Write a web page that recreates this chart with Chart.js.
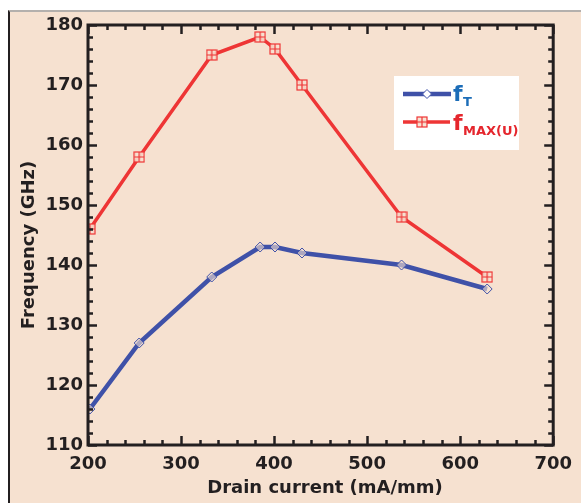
<!DOCTYPE html>
<html>
<head>
<meta charset="utf-8">
<script src="https://cdn.jsdelivr.net/npm/chart.js@4"></script>
<style>
    html, body { margin: 0; padding: 0; background: #fff; overflow: hidden; }
    #frame {
        position: absolute; left: 8px; top: 10px; width: 620px; height: 540px;
        background: #f6e1d0; border-left: 2px solid #231f20; border-top: 2px solid #b4b0ad;
    }
    #wrap { position: absolute; left: 0; top: 0; width: 581px; height: 503px; }
</style>
</head>
<body>
<div id="frame"></div>
<div id="wrap"><canvas id="freqChart"></canvas></div>
<script>
// drain current (mA/mm)
const drainCurrent = [202, 255, 333, 385, 401, 430, 537, 629];
const ftValues = [116, 127, 138, 143, 143, 142, 140, 136];
const fmaxValues = [146, 158, 175, 178, 176, 170, 148, 138];
const xTicks = [200, 300, 400, 500, 600, 700];
const yTicks = [110, 120, 130, 140, 150, 160, 170, 180];

const blue = '#3f51a8';
const red = '#ee3535';
const ink = '#231f20';
const font = '"DejaVu Sans", Verdana, sans-serif';

// square with a cross inside, used for the fMAX markers
function makeBoxMarker() {
    const c = document.createElement('canvas');
    c.width = 12; c.height = 12;
    const g = c.getContext('2d');
    g.strokeStyle = red;
    g.lineWidth = 1.2;
    g.fillStyle = 'rgba(246,225,208,0.9)';
    g.fillRect(1, 1, 10, 10);
    g.strokeRect(1, 1, 10, 10);
    g.beginPath();
    g.moveTo(6, 1); g.lineTo(6, 11);
    g.moveTo(1, 6); g.lineTo(11, 6);
    g.stroke();
    return c;
}
const boxMarker = makeBoxMarker();

function drawDiamond(ctx, x, y, r) {
    ctx.beginPath();
    ctx.moveTo(x, y - r); ctx.lineTo(x + r, y); ctx.lineTo(x, y + r); ctx.lineTo(x - r, y);
    ctx.closePath();
    ctx.fillStyle = '#ffffff';
    ctx.fill();
    ctx.strokeStyle = blue;
    ctx.lineWidth = 1;
    ctx.stroke();
}

// frame with inward ticks on all four sides, plus axis titles and legend
const framePlugin = {
    id: 'framePlugin',
    afterDraw(chart) {
        const ctx = chart.ctx;
        const xs = chart.scales.x, ys = chart.scales.y;
        const a = chart.chartArea;
        ctx.save();
        ctx.strokeStyle = ink;
        ctx.lineWidth = 3;
        ctx.strokeRect(a.left, a.top, a.right - a.left, a.bottom - a.top);

        ctx.lineWidth = 2.5;
        ctx.beginPath();
        for (let v = xs.min; v <= xs.max; v += 20) {
            const px = Math.round(xs.getPixelForValue(v)) + 0.5;
            const len = v % 100 === 0 ? 9 : 5;
            ctx.moveTo(px, a.bottom); ctx.lineTo(px, a.bottom - len);
            ctx.moveTo(px, a.top); ctx.lineTo(px, a.top + len);
        }
        for (let v = ys.min; v <= ys.max; v += 2) {
            const py = Math.round(ys.getPixelForValue(v)) + 0.5;
            const len = v % 10 === 0 ? 9 : 5;
            ctx.moveTo(a.left, py); ctx.lineTo(a.left + len, py);
            ctx.moveTo(a.right, py); ctx.lineTo(a.right - len, py);
        }
        ctx.stroke();

        // axis titles
        ctx.fillStyle = ink;
        ctx.font = 'bold 18px ' + font;
        ctx.textAlign = 'center';
        ctx.textBaseline = 'middle';
        ctx.fillText('Drain current (mA/mm)', 325, 488);
        ctx.translate(29, 245);
        ctx.rotate(-Math.PI / 2);
        ctx.fillText('Frequency (GHz)', 0, 0);
        ctx.restore();

        // legend
        ctx.save();
        ctx.fillStyle = '#ffffff';
        ctx.fillRect(394, 76, 125, 74);
        ctx.lineWidth = 4.5;
        ctx.strokeStyle = blue;
        ctx.beginPath(); ctx.moveTo(403, 94); ctx.lineTo(451, 94); ctx.stroke();
        drawDiamond(ctx, 427, 94, 4.5);
        ctx.lineWidth = 3.5;
        ctx.strokeStyle = red;
        ctx.beginPath(); ctx.moveTo(403, 122); ctx.lineTo(450, 122); ctx.stroke();
        ctx.drawImage(boxMarker, 416, 116);

        ctx.textAlign = 'left';
        ctx.textBaseline = 'alphabetic';
        ctx.fillStyle = '#1c6db8';
        ctx.font = 'bold 22px ' + font;
        ctx.fillText('f', 453, 101);
        ctx.font = 'bold 13px ' + font;
        ctx.fillText('T', 463, 106);
        ctx.fillStyle = '#e5262d';
        ctx.font = 'bold 22px ' + font;
        ctx.fillText('f', 453, 130);
        ctx.font = 'bold 13px ' + font;
        ctx.fillText('MAX(U)', 463, 135);
        ctx.restore();
    }
};

const ctx = document.getElementById('freqChart').getContext('2d');
new Chart(ctx, {
    type: 'line',
    data: {
        datasets: [
            {
                label: 'fT',
                data: drainCurrent.map((x, i) => ({ x, y: ftValues[i] })),
                borderColor: blue,
                borderWidth: 4.5,
                pointStyle: 'rectRot',
                pointRadius: 5,
                pointBorderWidth: 1,
                pointBorderColor: blue,
                pointBackgroundColor: 'rgba(246,225,208,0.6)',
                tension: 0
            },
            {
                label: 'fMAX(U)',
                data: drainCurrent.map((x, i) => ({ x, y: fmaxValues[i] })),
                borderColor: red,
                borderWidth: 3.5,
                pointStyle: boxMarker,
                pointRadius: 6,
                tension: 0
            }
        ]
    },
    options: {
        responsive: true,
        maintainAspectRatio: false,
        animation: false,
        layout: { padding: { top: 25, right: 26, left: 0, bottom: 0 } },
        plugins: { legend: { display: false }, tooltip: { enabled: false } },
        scales: {
            x: {
                type: 'linear',
                min: 200, max: 700,
                afterBuildTicks: s => { s.ticks = xTicks.map(v => ({ value: v })); },
                afterFit: s => { s.height = 58; },
                ticks: { color: ink, padding: 9, font: { family: font, size: 18, weight: 'bold' } },
                grid: { display: false, drawTicks: false },
                border: { display: false }
            },
            y: {
                min: 110, max: 180,
                afterBuildTicks: s => { s.ticks = yTicks.map(v => ({ value: v })); },
                afterFit: s => { s.width = 88; },
                ticks: { color: ink, padding: 5, font: { family: font, size: 18, weight: 'bold' } },
                grid: { display: false, drawTicks: false },
                border: { display: false }
            }
        }
    },
    plugins: [framePlugin]
});
</script>
</body>
</html>
